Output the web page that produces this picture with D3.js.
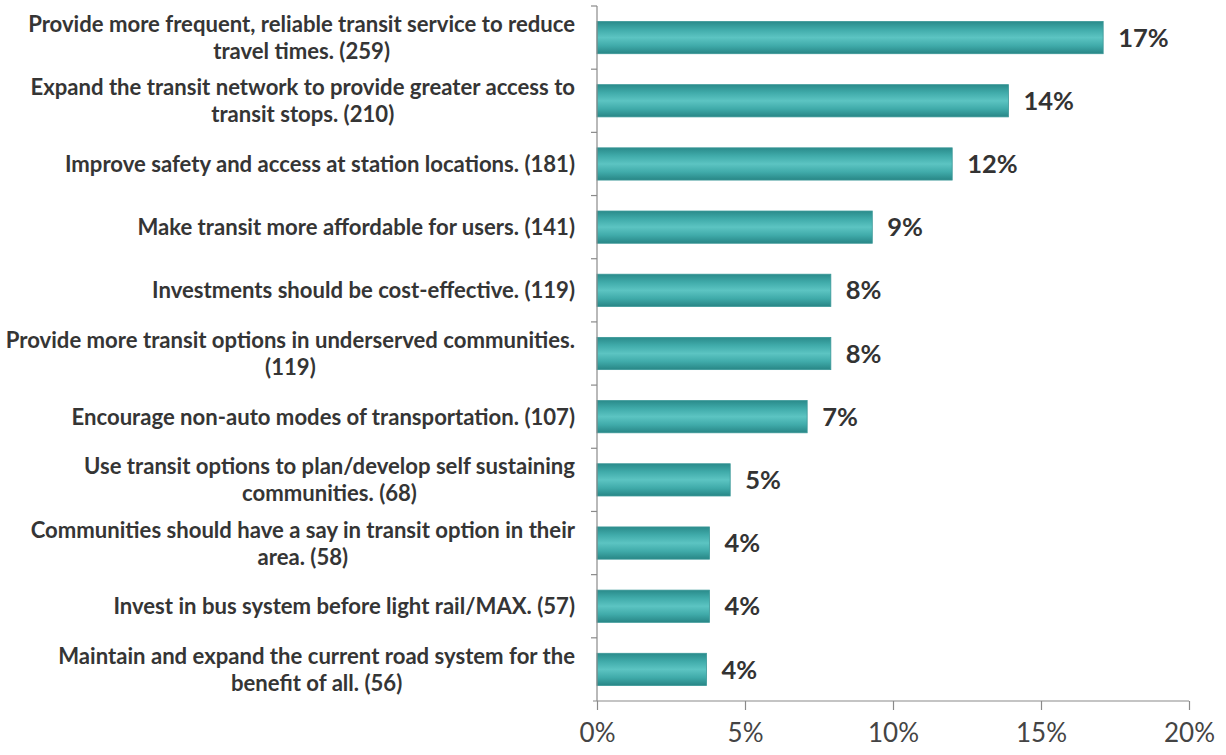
<!DOCTYPE html>
<html>
<head>
<meta charset="utf-8">
<script src="https://cdn.jsdelivr.net/npm/d3@7"></script>
<style>
  body { margin: 0; background: #fff; }
  svg { display: block; }
  text { font-family: Lato, "Open Sans", sans-serif; }
</style>
</head>
<body>
<svg width="1226" height="755"></svg>
<script>
// category labels (wrapped as in the original)
var labels = [
  ["Provide more frequent, reliable transit service to reduce", "travel times. (259)"],
  ["Expand the transit network to provide greater access to", "transit stops. (210)"],
  ["Improve safety and access at station locations. (181)"],
  ["Make transit more affordable for users. (141)"],
  ["Investments should be cost-effective. (119)"],
  ["Provide more transit options in underserved communities.", "(119)"],
  ["Encourage non-auto modes of transportation. (107)"],
  ["Use transit options to plan/develop self sustaining", "communities. (68)"],
  ["Communities should have a say in transit option in their", "area. (58)"],
  ["Invest in bus system before light rail/MAX. (57)"],
  ["Maintain and expand the current road system for the", "benefit of all. (56)"]
];
// percent of responses
var values = [17.1, 13.9, 12.0, 9.3, 7.9, 7.9, 7.1, 4.5, 3.8, 3.8, 3.7];
var valueLabels = ["17%", "14%", "12%", "9%", "8%", "8%", "7%", "5%", "4%", "4%", "4%"];
var xTicks = [0, 5, 10, 15, 20];

var svg = d3.select("svg");
var idx = d3.range(values.length);

var x = d3.scaleLinear().domain([0, 20]).range([597, 1189]);
var y = d3.scaleBand().domain(idx).range([6, 701]).paddingInner(0.49).paddingOuter(0.245);

// bar gradient - darker edges, lighter middle
var grad = svg.append("defs").append("linearGradient")
  .attr("id", "barGrad").attr("x1", 0).attr("y1", 0).attr("x2", 0).attr("y2", 1);
grad.append("stop").attr("offset", "0%").attr("stop-color", "#2a8b8b");
grad.append("stop").attr("offset", "25%").attr("stop-color", "#40abaa");
grad.append("stop").attr("offset", "50%").attr("stop-color", "#5cc4c2");
grad.append("stop").attr("offset", "75%").attr("stop-color", "#40abaa");
grad.append("stop").attr("offset", "100%").attr("stop-color", "#288686");

svg.append("g").selectAll("rect")
  .data(idx)
  .enter().append("rect")
  .attr("x", x(0))
  .attr("y", function(i) { return y(i); })
  .attr("width", function(i) { return x(values[i]) - x(0); })
  .attr("height", y.bandwidth())
  .attr("fill", "url(#barGrad)")
  .attr("stroke", "#3a9797")
  .attr("stroke-width", 0.8);

// value labels
svg.append("g").selectAll("text")
  .data(idx)
  .enter().append("text")
  .attr("x", function(i) { return x(values[i]) + 15; })
  .attr("y", function(i) { return y(i) + y.bandwidth() / 2; })
  .attr("dy", "0.36em")
  .attr("font-size", 25.5)
  .attr("font-weight", "bold")
  .attr("fill", "#333")
  .text(function(i) { return valueLabels[i]; });

// category labels: block right edge at 575, lines centered within block
var step = y.step();
var lab = svg.append("g").attr("fill", "#353535").attr("font-weight", "bold").attr("font-size", 18);
var groups = lab.selectAll("g").data(idx).enter().append("g");
groups.each(function(i) {
  var g = d3.select(this);
  var lines = labels[i];
  var cy = y(i) + y.bandwidth() / 2;
  lines.forEach(function(t, k) {
    g.append("text")
      .attr("text-anchor", "middle")
      .attr("y", cy + (k - (lines.length - 1) / 2) * 27)
      .attr("dy", "0.36em")
      .text(t);
  });
});
// scale font so the longest line matches the original width
var ref = lab.select("text").node().getComputedTextLength();
var fs = 18 * 547 / ref;
lab.attr("font-size", fs);
groups.each(function() {
  var g = d3.select(this);
  var w = 0;
  g.selectAll("text").each(function() { w = Math.max(w, this.getComputedTextLength()); });
  g.selectAll("text").attr("x", 575 - w / 2);
});

// y axis line with small ticks between categories
svg.append("line")
  .attr("x1", 597).attr("x2", 597).attr("y1", 6).attr("y2", 701)
  .attr("stroke", "#8a8a8a").attr("stroke-width", 1.2);
svg.append("g").selectAll("line")
  .data(d3.range(values.length))
  .enter().append("line")
  .attr("x1", 591).attr("x2", 597)
  .attr("y1", function(i) { return 6 + i * step; })
  .attr("y2", function(i) { return 6 + i * step; })
  .attr("stroke", "#8a8a8a").attr("stroke-width", 1.2);

// x axis
var xAxis = svg.append("g")
  .attr("transform", "translate(0,701)")
  .call(d3.axisBottom(x).tickValues(xTicks).tickSize(9).tickSizeOuter(0).tickPadding(14)
    .tickFormat(function(d) { return d + "%"; }));
xAxis.select(".domain").attr("stroke", "#8a8a8a").attr("stroke-width", 1.2)
  .attr("d", "M593,0H1189");
xAxis.selectAll(".tick line").attr("stroke", "#8a8a8a").attr("stroke-width", 1.2);
xAxis.selectAll(".tick text")
  .attr("font-size", 26)
  .attr("font-family", "Lato, 'Open Sans', sans-serif")
  .attr("fill", "#444");
</script>
</body>
</html>
